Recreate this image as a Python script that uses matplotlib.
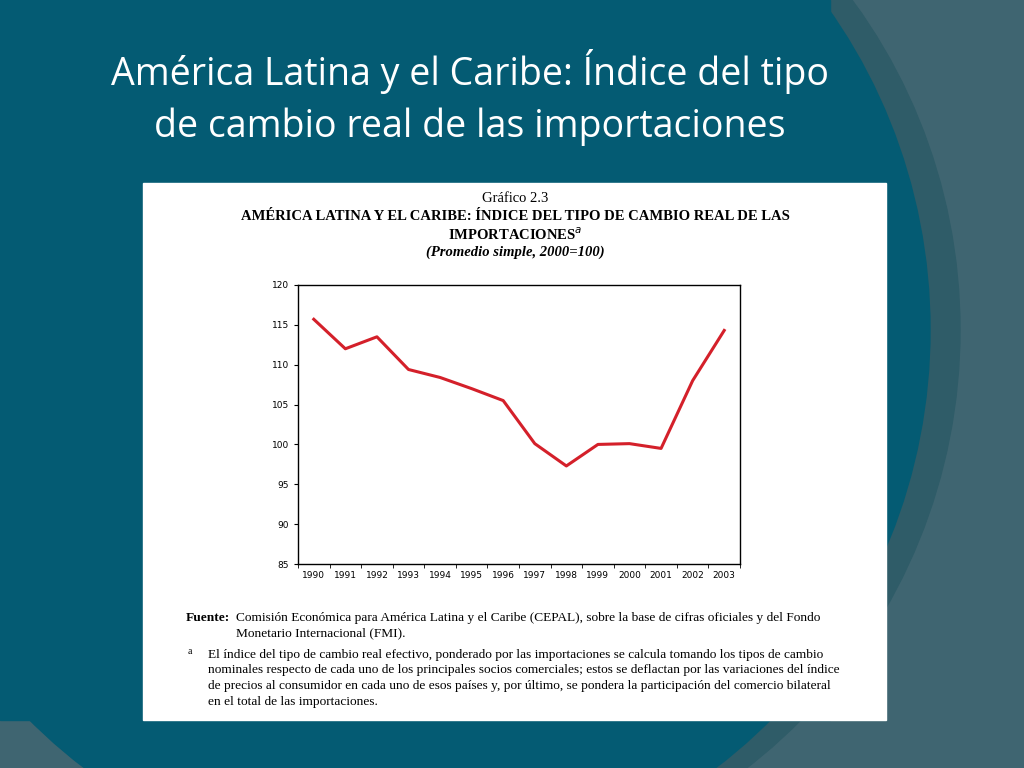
import matplotlib.pyplot as plt
from matplotlib.patches import Rectangle, Ellipse

years = ['1990', '1991', '1992', '1993', '1994', '1995', '1996',
         '1997', '1998', '1999', '2000', '2001', '2002', '2003']
index = [115.7, 112.0, 113.5, 109.4, 108.4, 107.0, 105.5,
         100.1, 97.3, 100.0, 100.1, 99.5, 108.0, 114.3]
yticks = [85, 90, 95, 100, 105, 110, 115, 120]

W, H = 1024, 768
fig = plt.figure(figsize=(10.24, 7.68), dpi=100)
fig.patch.set_facecolor('#3f6571')

# slide background shapes (figure-pixel coords)
bg = fig.add_axes([0, 0, 1, 1])
bg.set_xlim(0, W)
bg.set_ylim(H, 0)
bg.axis('off')
bg.add_patch(Ellipse((420, 330), 1080, 1100, color='#2f5c68', zorder=0))
bg.add_patch(Ellipse((400, 330), 1060, 1090, color='#045b73', zorder=1))
bg.add_patch(Rectangle((0, 0), 830, 720, color='#045b73', zorder=1))
bg.add_patch(Rectangle((143, 183), 743, 537, color='white', zorder=2))

bg.text(470, 72, 'América Latina y el Caribe: Índice del tipo', color='white',
        fontsize=27, ha='center', va='center', family='Open Sans', zorder=3)
bg.text(470, 127, 'de cambio real de las importaciones', color='white',
        fontsize=27, ha='center', va='center', family='Open Sans', zorder=3)

serif = 'Liberation Serif'
hs = 10.5
bg.text(515, 198, 'Gráfico 2.3', fontsize=hs, ha='center', va='center', family=serif, zorder=3)
bg.text(515, 217, 'AMÉRICA LATINA Y EL CARIBE: ÍNDICE DEL TIPO DE CAMBIO REAL DE LAS',
        fontsize=hs, ha='center', va='center', family=serif, weight='bold', zorder=3)
bg.text(515, 235, 'IMPORTACIONES$^{a}$', fontsize=hs, ha='center', va='center',
        family=serif, weight='bold', zorder=3)
bg.text(515, 252, '(Promedio simple, 2000=100)', fontsize=hs, ha='center', va='center',
        family=serif, weight='bold', style='italic', zorder=3)

fs = 9.6
bg.text(186, 618, 'Fuente:', fontsize=fs, family=serif, weight='bold', va='center', zorder=3)
bg.text(236, 618, 'Comisión Económica para América Latina y el Caribe (CEPAL), sobre la base de cifras oficiales y del Fondo',
        fontsize=fs, family=serif, va='center', zorder=3)
bg.text(236, 633, 'Monetario Internacional (FMI).', fontsize=fs, family=serif, va='center', zorder=3)
bg.text(188, 651, 'a', fontsize=7, family=serif, va='center', zorder=3)
notes = ['El índice del tipo de cambio real efectivo, ponderado por las importaciones se calcula tomando los tipos de cambio',
         'nominales respecto de cada uno de los principales socios comerciales; estos se deflactan por las variaciones del índice',
         'de precios al consumidor en cada uno de esos países y, por último, se pondera la participación del comercio bilateral',
         'en el total de las importaciones.']
for i, line in enumerate(notes):
    bg.text(208, 655 + i * 15.5, line, fontsize=fs, family=serif, va='center', zorder=3)

ax = fig.add_axes([298 / W, 1 - 564 / H, 442 / W, 279 / H])
ax.set_zorder(5)
ax.plot(range(len(years)), index, color='#d4202a', lw=2.2)
ax.set_xlim(-0.5, len(years) - 0.5)
ax.set_ylim(85, 120)
ax.set_yticks(yticks)
ax.set_xticks(range(len(years)))
ax.set_xticklabels(years)
ax.set_xticks([i + 0.5 for i in range(-1, len(years))], minor=True)
ax.tick_params(axis='x', which='major', length=0, labelsize=6.5, pad=5)
ax.tick_params(axis='x', which='minor', length=3, direction='out')
ax.tick_params(axis='y', labelsize=6.5, length=3)
for s in ax.spines.values():
    s.set_linewidth(1.0)

fig.savefig('out.png', dpi=100, facecolor=fig.get_facecolor())
